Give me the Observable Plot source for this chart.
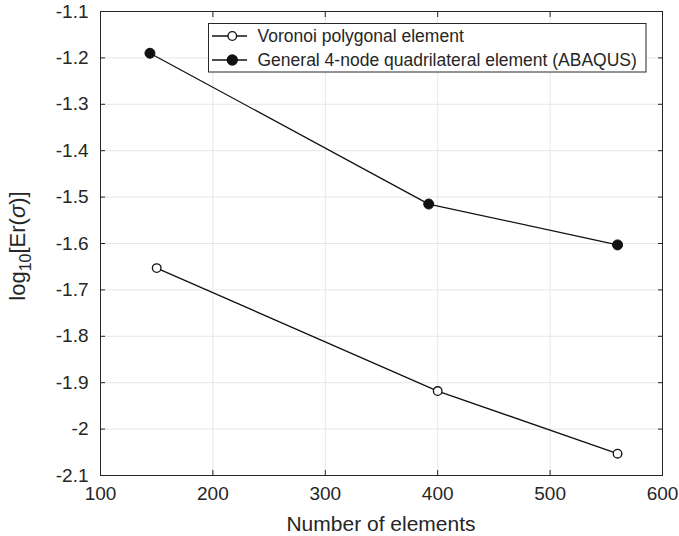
<!DOCTYPE html>
<html>
<head>
<meta charset="utf-8">
<script src="https://cdn.jsdelivr.net/npm/d3@7"></script>
<script src="https://cdn.jsdelivr.net/npm/@observablehq/plot@0.6"></script>
<style>
  html, body { margin: 0; padding: 0; background: #fff; }
  #chart { position: relative; width: 679px; height: 536px; }
  svg { font-family: "Liberation Sans", Arial, Helvetica, sans-serif; }
</style>
</head>
<body>
<div id="chart"></div>
<script>
// Data
const voronoiX = [150, 400, 560];
const voronoiY = [-1.653, -1.918, -2.053];
const abaqusX = [144, 392, 560];
const abaqusY = [-1.19, -1.515, -1.603];
const seriesNames = ["Voronoi polygonal element", "General 4-node quadrilateral element (ABAQUS)"];
const xTicks = [100, 200, 300, 400, 500, 600];
const yTicks = [-2.1, -2, -1.9, -1.8, -1.7, -1.6, -1.5, -1.4, -1.3, -1.2, -1.1];
const xLabel = "Number of elements";

const voronoi = voronoiX.map((x, i) => ({x, y: voronoiY[i]}));
const abaqus = abaqusX.map((x, i) => ({x, y: abaqusY[i]}));

const ink = "#262626";
const fmt = d => String(+d.toFixed(1));

const W = 679, H = 536;
const mL = 100, mT = 11, mR = 17, mB = 61;

const plot = Plot.plot({
  width: W, height: H,
  marginLeft: mL, marginTop: mT, marginRight: mR, marginBottom: mB,
  style: {fontFamily: '"Liberation Sans", Arial, Helvetica, sans-serif', color: ink, background: "white"},
  x: {domain: [100, 600]},
  y: {domain: [-2.1, -1.1]},
  marks: [
    Plot.ruleX(xTicks, {stroke: "#e6e6e6", strokeWidth: 1}),
    Plot.ruleY(yTicks, {stroke: "#e6e6e6", strokeWidth: 1}),
    Plot.frame({stroke: ink, strokeWidth: 1}),
    // inward ticks
    Plot.axisX(xTicks, {anchor: "bottom", tickSize: -5, tickFormat: () => "", label: null, stroke: ink}),
    Plot.axisX(xTicks, {anchor: "top", tickSize: -5, tickFormat: () => "", label: null, stroke: ink}),
    Plot.axisY(yTicks, {anchor: "left", tickSize: -5, tickFormat: () => "", label: null, stroke: ink}),
    Plot.axisY(yTicks, {anchor: "right", tickSize: -5, tickFormat: () => "", label: null, stroke: ink}),
    // tick labels
    Plot.axisX(xTicks, {anchor: "bottom", tickSize: 0, tickPadding: 11, tickFormat: fmt, label: null, fontSize: 19, fill: ink}),
    Plot.axisY(yTicks, {anchor: "left", tickSize: 0, tickPadding: 12, tickFormat: fmt, label: null, fontSize: 19, fill: ink}),
    // series
    Plot.line(voronoi, {x: "x", y: "y", stroke: "#111", strokeWidth: 1.3}),
    Plot.dot(voronoi, {x: "x", y: "y", r: 4.3, stroke: "#111", fill: "white", strokeWidth: 1.3}),
    Plot.line(abaqus, {x: "x", y: "y", stroke: "#111", strokeWidth: 1.3}),
    Plot.dot(abaqus, {x: "x", y: "y", r: 5, stroke: "#111", fill: "#111", strokeWidth: 1})
  ]
});

document.getElementById("chart").appendChild(plot);

const svg = d3.select(plot);
const font = '"Liberation Sans", Arial, Helvetica, sans-serif';

// x label
svg.append("text")
  .attr("x", (mL + W - mR) / 2).attr("y", 531)
  .attr("text-anchor", "middle")
  .attr("font-size", 21).attr("font-family", font).attr("fill", ink)
  .text(xLabel);

// y label
const yl = svg.append("text")
  .attr("transform", `translate(25,${(mT + H - mB) / 2 + 3}) rotate(-90)`)
  .attr("text-anchor", "middle")
  .attr("font-size", 22).attr("font-family", font).attr("fill", ink);
yl.append("tspan").text("log");
yl.append("tspan").attr("font-size", 16).attr("dy", 6).text("10");
yl.append("tspan").attr("dy", -6).text("[Er(");
yl.append("tspan").attr("font-style", "italic").text("σ");
yl.append("tspan").text(")]");

// legend
const lg = svg.append("g").attr("font-family", font).attr("text-anchor", "start");
lg.append("rect").attr("x", 208.5).attr("y", 23.5).attr("width", 437.5).attr("height", 48.5)
  .attr("fill", "white").attr("stroke", ink).attr("stroke-width", 1);
const rows = [
  {name: seriesNames[0], y: 36, fill: "white", r: 4.3},
  {name: seriesNames[1], y: 60, fill: "#111", r: 5}
];
rows.forEach(d => {
  lg.append("line").attr("x1", 212).attr("x2", 247).attr("y1", d.y).attr("y2", d.y)
    .attr("stroke", "#111").attr("stroke-width", 1.3);
  lg.append("circle").attr("cx", 232.3).attr("cy", d.y).attr("r", d.r)
    .attr("fill", d.fill).attr("stroke", "#111").attr("stroke-width", 1.3);
  lg.append("text").attr("x", 257.5).attr("y", d.y).attr("dy", "0.35em")
    .attr("text-anchor", "start")
    .attr("font-size", 17.5).attr("fill", ink).text(d.name);
});
</script>
</body>
</html>
